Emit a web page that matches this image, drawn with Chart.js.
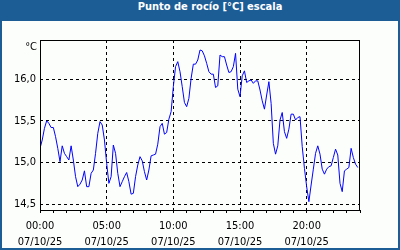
<!DOCTYPE html>
<html>
<head>
<meta charset="utf-8">
<script src="https://cdn.jsdelivr.net/npm/chart.js@4"></script>
<style>
  body { margin: 0; width: 400px; height: 250px; overflow: hidden; background: #1c5d96; position: relative; }
  #titulo { position: absolute; left: 0; top: 0; width: 380px; padding-left: 20px; height: 21px; line-height: 21px;
    text-align: center; color: #fff; font: bold 11px 'DejaVu Sans Condensed', 'DejaVu Sans', sans-serif; }
  #fondo { position: absolute; left: 2px; top: 21px; width: 396px; height: 227px; background: #fcfefc; }
  #grafico { position: absolute; left: 0; top: 0; }
</style>
</head>
<body>
<div id="titulo">Punto de rocío [°C] escala</div>
<div id="fondo"></div>
<canvas id="grafico" width="400" height="250"></canvas>
<script>
// punto de rocío cada 10 minutos, desde las 00:00
const pasoHoras = 1 / 6;
const valores = [
  15.17, 15.27, 15.41, 15.50, 15.47, 15.42,
  15.42, 15.31, 15.17, 15.01, 15.20, 15.11,
  15.07, 15.03, 15.20, 15.03, 14.83, 14.71,
  14.74, 14.79, 14.90, 14.71, 14.71, 14.87,
  14.91, 15.11, 15.35, 15.49, 15.45, 15.27,
  14.99, 14.75, 14.83, 15.21, 15.11, 14.87,
  14.71, 14.77, 14.83, 14.88, 14.77, 14.62,
  14.63, 14.83, 14.97, 15.07, 15.02, 14.89,
  14.79, 14.91, 15.08, 15.09, 15.10, 15.22,
  15.43, 15.47, 15.34, 15.36, 15.52, 15.61,
  15.91, 16.15, 16.21, 16.09, 15.91, 15.72,
  15.67, 15.77, 16.01, 16.18, 16.18, 16.23,
  16.35, 16.34, 16.28, 16.19, 16.09, 16.06,
  16.06, 15.90, 15.92, 16.29, 16.27, 16.27,
  16.17, 16.08, 16.09, 16.15, 16.31, 15.88,
  15.79, 16.04, 16.10, 15.96, 15.98, 15.99,
  15.95, 15.98, 15.98, 15.87, 15.74, 15.64,
  15.81, 15.97, 15.71, 15.23, 15.10, 15.20,
  15.51, 15.60, 15.37, 15.29, 15.40, 15.58,
  15.58, 15.51, 15.54, 15.55, 15.19, 14.93,
  14.71, 14.53, 14.73, 14.92, 15.11, 15.20,
  15.10, 14.92, 14.86, 14.92, 14.95, 14.96,
  15.06, 15.16, 15.09, 14.75, 14.65, 14.90,
  14.92, 14.94, 15.17, 15.06, 14.98, 14.94
];
const etiquetasHora = ['00:00', '05:00', '10:00', '15:00', '20:00'];
const fecha = '07/10/25';
const marcasY = [14.5, 15.0, 15.5, 16.0];
const unidad = '°C';

const puntos = valores.map((v, i) => ({ x: i * pasoHoras, y: v }));

Chart.defaults.font.family = "'DejaVu Sans Condensed', 'DejaVu Sans', sans-serif";
Chart.defaults.font.size = 11;
Chart.defaults.color = '#000';

const marco = {
  id: 'marco',
  afterDraw(chart) {
    const { ctx, chartArea: a } = chart;
    ctx.save();
    ctx.strokeStyle = '#000';
    ctx.lineWidth = 1;
    ctx.setLineDash([]);
    ctx.strokeRect(a.left + 0.5, a.top + 0.5, a.right - a.left - 1, a.bottom - a.top);
    ctx.fillStyle = '#000';
    ctx.font = "11px 'DejaVu Sans Condensed', 'DejaVu Sans', sans-serif";
    ctx.textAlign = 'right';
    ctx.fillText(unidad, a.left - 3, a.top + 10);
    ctx.restore();
  }
};

new Chart(document.getElementById('grafico'), {
  type: 'line',
  data: {
    datasets: [{
      data: puntos,
      borderColor: '#0000ff',
      borderWidth: 1,
      pointRadius: 0,
      tension: 0
    }]
  },
  options: {
    responsive: false,
    animation: false,
    layout: { padding: { left: 0, top: 40, right: 40, bottom: 0 } },
    plugins: { legend: { display: false }, tooltip: { enabled: false } },
    scales: {
      x: {
        type: 'linear',
        min: 0,
        max: 24,
        afterFit: s => { s.height = 40; },
        afterBuildTicks: s => { s.ticks = Array.from({ length: 25 }, (_, h) => ({ value: h })); },
        ticks: {
          autoSkip: false,
          maxRotation: 0,
          padding: 5,
          font: { lineHeight: 1.45 },
          callback: v => v % 5 === 0 && v / 5 < etiquetasHora.length ? [etiquetasHora[v / 5], fecha] : ''
        },
        grid: {
          color: c => (c.tick && c.tick.value % 5 === 0) ? '#000' : 'rgba(0,0,0,0)',
          tickColor: '#000',
          tickLength: 3,
          tickBorderDash: []
        },
        border: { display: false, dash: [3, 3] }
      },
      y: {
        min: 14.43,
        max: 16.47,
        afterFit: s => { s.width = 40; },
        afterBuildTicks: s => { s.ticks = marcasY.map(v => ({ value: v })); },
        ticks: {
          padding: 4,
          callback: v => v.toFixed(1).replace('.', ',')
        },
        grid: { color: '#000', drawTicks: false },
        border: { display: false, dash: [3, 3] }
      }
    }
  },
  plugins: [marco]
});
</script>
</body>
</html>
